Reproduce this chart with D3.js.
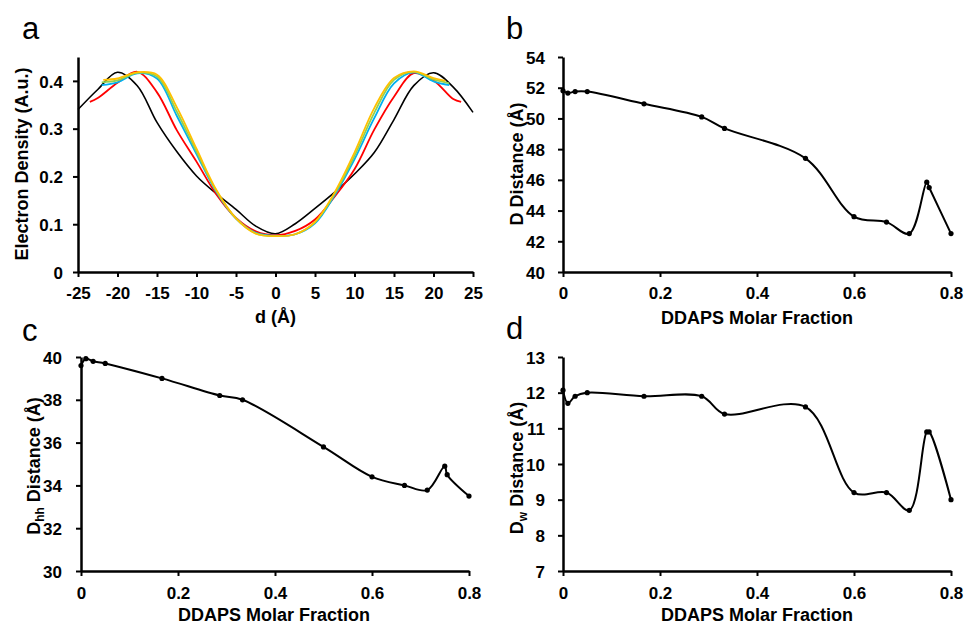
<!DOCTYPE html>
<html>
<head>
<meta charset="utf-8">
<script src="https://cdn.jsdelivr.net/npm/d3@7"></script>
<style>
  body { margin: 0; background: #fff; }
  text { font-family: "Liberation Sans", Arial, sans-serif; }
</style>
</head>
<body>
<svg id="chart" width="964" height="627"></svg>
<script>
// Panel a: electron density profiles (d in Angstrom)
const blackX = [-25, -22.5, -20, -17.5, -15, -12.5, -10, -7.5, -5, -2.5, 0, 2.5, 5, 7.5, 10, 12.5, 15, 17.5, 20, 22.5, 25];
const blackY = [0.340, 0.382, 0.418, 0.390, 0.313, 0.252, 0.201, 0.164, 0.131, 0.096, 0.080, 0.101, 0.133, 0.167, 0.205, 0.250, 0.319, 0.390, 0.417, 0.387, 0.334];
const redX = [-23.5, -22.5, -20, -17.5, -15, -12.5, -10, -7.5, -5, -2.5, 0, 2.5, 5, 7.5, 10, 12.5, 15, 17.5, 20, 22.5, 23.5];
const redY = [0.356, 0.364, 0.396, 0.419, 0.376, 0.297, 0.231, 0.163, 0.113, 0.085, 0.077, 0.086, 0.110, 0.158, 0.215, 0.298, 0.367, 0.416, 0.401, 0.362, 0.356];
const blueX = [-22, -20, -17.5, -15, -12.5, -10, -7.5, -5, -2.5, 0, 2.5, 5, 7.5, 10, 12.5, 15, 17.5, 20, 22];
const blueY = [0.391, 0.397, 0.416, 0.405, 0.327, 0.247, 0.168, 0.112, 0.082, 0.076, 0.079, 0.102, 0.161, 0.236, 0.322, 0.395, 0.418, 0.399, 0.391];
const greenX = [-22, -20, -17.5, -15, -12.5, -10, -7.5, -5, -2.5, 0, 2.5, 5, 7.5, 10, 12.5, 15, 17.5, 20, 22];
const greenY = [0.397, 0.401, 0.417, 0.409, 0.336, 0.252, 0.170, 0.112, 0.081, 0.075, 0.079, 0.104, 0.164, 0.243, 0.333, 0.402, 0.419, 0.403, 0.395];
const yellowX = [-21.8, -20, -17.5, -15, -12.5, -10, -7.5, -5, -2.5, 0, 2.5, 5, 7.5, 10, 12.5, 15, 17.5, 20, 21.5];
const yellowY = [0.402, 0.405, 0.418, 0.413, 0.345, 0.258, 0.172, 0.112, 0.080, 0.075, 0.079, 0.105, 0.167, 0.250, 0.343, 0.406, 0.420, 0.406, 0.400];

const aXTicks = [-25, -20, -15, -10, -5, 0, 5, 10, 15, 20, 25];
const aYTicks = [0, 0.1, 0.2, 0.3, 0.4];
const aYTickLabels = ["0", "0.1", "0.2", "0.3", "0.4"];

// Panels b, c, d: distances vs DDAPS molar fraction
const molarFraction = [0, 0.01, 0.025, 0.05, 0.167, 0.286, 0.333, 0.5, 0.6, 0.667, 0.714, 0.75, 0.755, 0.8];
const dDistance = [51.8, 51.65, 51.75, 51.75, 50.95, 50.1, 49.35, 47.4, 43.6, 43.25, 42.5, 45.85, 45.5, 42.5];
const dhhDistance = [39.6, 39.92, 39.8, 39.7, 39.0, 38.2, 38.0, 35.8, 34.4, 34.0, 33.78, 34.9, 34.5, 33.5];
const dwDistance = [12.07, 11.7, 11.9, 12.0, 11.9, 11.9, 11.4, 11.6, 9.2, 9.2, 8.7, 10.9, 10.9, 9.0];

const fracTicks = [0, 0.2, 0.4, 0.6, 0.8];
const fracTickLabels = ["0", "0.2", "0.4", "0.6", "0.8"];
const bYTicks = [40, 42, 44, 46, 48, 50, 52, 54];
const cYTicks = [30, 32, 34, 36, 38, 40];
const dYTicks = [7, 8, 9, 10, 11, 12, 13];

const svg = d3.select("#chart");

function drawPanel(p) {
  const x = d3.scaleLinear().domain(p.xDomain).range([p.left, p.right]);
  const y = d3.scaleLinear().domain(p.yDomain).range([p.bottom, p.top]);

  const xAxis = d3.axisBottom(x)
    .tickValues(p.xTicks)
    .tickFormat((d, i) => p.xLabels[i])
    .tickSize(5)
    .tickSizeOuter(0)
    .tickPadding(p.xPad);
  const yAxis = d3.axisLeft(y)
    .tickValues(p.yTicks)
    .tickFormat((d, i) => p.yLabels[i])
    .tickSize(5)
    .tickSizeOuter(0)
    .tickPadding(p.yPad);

  const gx = svg.append("g").attr("transform", `translate(0,${p.bottom})`).call(xAxis);
  const gy = svg.append("g").attr("transform", `translate(${p.left},0)`).call(yAxis);
  gy.selectAll(".tick text").attr("dy", "0.36em");
  [gx, gy].forEach((g) => {
    g.select(".domain").attr("stroke", "#000").attr("stroke-width", 2.5);
    g.selectAll(".tick line").attr("stroke", "#000").attr("stroke-width", 2);
    g.selectAll(".tick text")
      .attr("fill", "#000")
      .attr("font-size", 17)
      .attr("font-weight", "bold")
      .attr("font-family", "'Liberation Sans', Arial, sans-serif");
  });

  p.series.forEach((s) => {
    const pts = s.xs.map((v, i) => [v, s.ys[i]]);
    svg.append("path")
      .datum(pts)
      .attr("fill", "none")
      .attr("stroke", s.color)
      .attr("stroke-width", s.width)
      .attr("d", d3.line().x((d) => x(d[0])).y((d) => y(d[1])).curve(s.curve)(pts));
    if (s.markers) {
      svg.append("g")
        .selectAll("circle")
        .data(pts)
        .join("circle")
        .attr("cx", (d) => x(d[0]))
        .attr("cy", (d) => y(d[1]))
        .attr("r", 2.6)
        .attr("fill", "#000");
    }
  });

  // x axis title
  svg.append("text")
    .attr("x", (p.left + p.right) / 2 + p.xTitleShift)
    .attr("y", p.xTitleY)
    .attr("text-anchor", "middle")
    .style("font-size", "18px")
    .style("font-weight", "bold")
    .text(p.xTitle);

  // y axis title (rotated), with optional subscript
  const yt = svg.append("text")
    .attr("transform", `translate(${p.yTitleX},${p.yTitleY}) rotate(-90)`)
    .attr("text-anchor", "middle")
    .style("font-size", "18px")
    .style("font-weight", "bold");
  if (p.ySub) {
    yt.append("tspan").text("D");
    yt.append("tspan").attr("dy", 4).style("font-size", "12px").text(p.ySub);
    yt.append("tspan").attr("dy", -4).text(" Distance (Å)");
  } else {
    yt.text(p.yTitle);
  }

  // panel letter
  svg.append("text")
    .attr("x", p.letterX)
    .attr("y", p.letterY)
    .style("font-size", "31px")
    .text(p.letter);
}

const smooth = d3.curveCatmullRom.alpha(0.5);

drawPanel({
  letter: "a", letterX: 22, letterY: 39,
  left: 78, right: 473, top: 57, bottom: 272,
  xDomain: [-25, 25], yDomain: [0, 0.45],
  xTicks: aXTicks, xLabels: aXTicks.map(String), xPad: 10,
  yTicks: aYTicks, yLabels: aYTickLabels, yPad: 10,
  xTitle: "d (Å)", xTitleY: 323, xTitleShift: 0,
  yTitle: "Electron Density (A.u.)", yTitleX: 28, yTitleY: 164,
  series: [
    { xs: blackX, ys: blackY, color: "#000000", width: 1.6, curve: d3.curveCatmullRom },
    { xs: redX, ys: redY, color: "#FF0000", width: 1.8, curve: d3.curveCatmullRom },
    { xs: blueX, ys: blueY, color: "#00B0F0", width: 1.8, curve: d3.curveCatmullRom },
    { xs: greenX, ys: greenY, color: "#92D050", width: 1.8, curve: d3.curveCatmullRom },
    { xs: yellowX, ys: yellowY, color: "#FFC000", width: 1.8, curve: d3.curveCatmullRom }
  ]
});

drawPanel({
  letter: "b", letterX: 506, letterY: 39,
  left: 563, right: 951, top: 57, bottom: 272,
  xDomain: [0, 0.8], yDomain: [40, 54],
  xTicks: fracTicks, xLabels: fracTickLabels, xPad: 10,
  yTicks: bYTicks, yLabels: bYTicks.map(String), yPad: 13,
  xTitle: "DDAPS Molar Fraction", xTitleY: 324, xTitleShift: 0,
  yTitle: "D Distance (Å)", yTitleX: 523, yTitleY: 164,
  series: [{ xs: molarFraction, ys: dDistance, color: "#000", width: 2, curve: smooth, markers: true }]
});

drawPanel({
  letter: "c", letterX: 22, letterY: 341,
  left: 81, right: 469, top: 357, bottom: 571,
  xDomain: [0, 0.8], yDomain: [30, 40],
  xTicks: fracTicks, xLabels: fracTickLabels, xPad: 11,
  yTicks: cYTicks, yLabels: cYTicks.map(String), yPad: 14,
  xTitle: "DDAPS Molar Fraction", xTitleY: 621, xTitleShift: -1,
  ySub: "hh", yTitleX: 40, yTitleY: 466,
  series: [{ xs: molarFraction, ys: dhhDistance, color: "#000", width: 2, curve: smooth, markers: true }]
});

drawPanel({
  letter: "d", letterX: 506, letterY: 339,
  left: 563, right: 951, top: 357, bottom: 571,
  xDomain: [0, 0.8], yDomain: [7, 13],
  xTicks: fracTicks, xLabels: fracTickLabels, xPad: 11,
  yTicks: dYTicks, yLabels: dYTicks.map(String), yPad: 13,
  xTitle: "DDAPS Molar Fraction", xTitleY: 621, xTitleShift: 0,
  ySub: "w", yTitleX: 523, yTitleY: 468,
  series: [{ xs: molarFraction, ys: dwDistance, color: "#000", width: 2, curve: smooth, markers: true }]
});
</script>
</body>
</html>
